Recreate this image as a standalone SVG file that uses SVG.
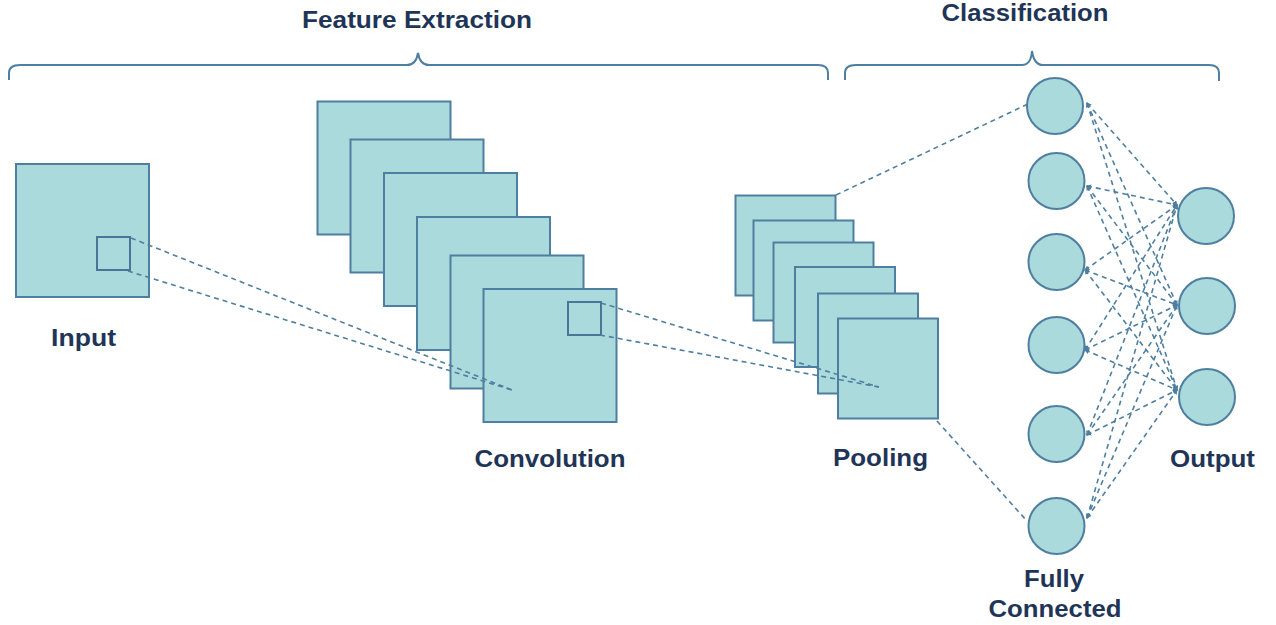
<svg xmlns="http://www.w3.org/2000/svg" width="1276" height="625" viewBox="0 0 1276 625">
<defs>
<style>
.box{fill:#aadadb;stroke:#4f7fa0;stroke-width:2}
.sm{fill:none;stroke:#4a7598;stroke-width:2}
.node{fill:#aadadb;stroke:#4f7fa0;stroke-width:2}
.dash{fill:none;stroke:#4f7fa0;stroke-width:1.6;stroke-dasharray:5 4}
.brace{fill:none;stroke:#4f7fa0;stroke-width:2}
.lbl{font-family:"Liberation Sans",Arial,sans-serif;font-weight:bold;font-size:23.5px;fill:#1f3557;text-anchor:middle}
</style>
<marker id="ah" viewBox="0 0 6 6" refX="5" refY="3" markerWidth="5" markerHeight="5" orient="auto-start-reverse" markerUnits="userSpaceOnUse">
<path d="M0,0 L6,3 L0,6 Z" fill="#4f7fa0"/>
</marker>
</defs>
<rect width="1276" height="625" fill="#ffffff"/>

<g id="braces">
<path class="brace" d="M9,80 L9,73 Q9,65 20,65 L407,65 Q416,65 418,53 Q420,65 429,65 L818,65 Q828,65 828,73 L828,80"/>
<path class="brace" d="M845,80 L845,73 Q845,65 856,65 L1022,65 Q1031,65 1032,51 Q1034,65 1043,65 L1209,65 Q1219,65 1219,73 L1219,81"/>
</g>

<g id="titles">
<text class="lbl" x="417" y="28" textLength="230" lengthAdjust="spacingAndGlyphs">Feature Extraction</text>
<text class="lbl" x="1025" y="21" textLength="167" lengthAdjust="spacingAndGlyphs">Classification</text>
</g>

<g id="input">
<rect class="box" x="16" y="164" width="133" height="133"/>
<rect class="sm" x="97" y="237" width="33" height="33"/>
<text class="lbl" x="83.5" y="346" textLength="65" lengthAdjust="spacingAndGlyphs">Input</text>
</g>

<g id="convolution">
<rect class="box" x="317.5" y="101.5" width="133" height="133"/>
<rect class="box" x="350.5" y="139.5" width="133" height="133"/>
<rect class="box" x="384" y="173" width="133" height="133"/>
<rect class="box" x="417" y="217" width="133" height="133"/>
<rect class="box" x="450.5" y="255.5" width="133" height="133"/>
<rect class="box" x="483.5" y="289" width="133" height="133"/>
<rect class="sm" x="568" y="302" width="33" height="33"/>
<text class="lbl" x="550" y="467" textLength="151" lengthAdjust="spacingAndGlyphs">Convolution</text>
</g>

<g id="pooling">
<rect class="box" x="735.5" y="195.5" width="100" height="100"/>
<rect class="box" x="753.5" y="220.5" width="100" height="100"/>
<rect class="box" x="773.5" y="242.5" width="100" height="100"/>
<rect class="box" x="795" y="267" width="100" height="100"/>
<rect class="box" x="818" y="293.5" width="100" height="100"/>
<rect class="box" x="838" y="318.5" width="100" height="100"/>
<text class="lbl" x="880.5" y="466" textLength="95" lengthAdjust="spacingAndGlyphs">Pooling</text>
</g>

<g id="connectors">
<line class="dash" x1="131" y1="238" x2="512" y2="390"/>
<line class="dash" x1="128" y1="271" x2="512" y2="390"/>
<line class="dash" x1="601" y1="303" x2="879" y2="387"/>
<line class="dash" x1="600" y1="335" x2="879" y2="387"/>
<line class="dash" x1="836" y1="195" x2="1028" y2="104"/>
<line class="dash" x1="937" y1="421" x2="1027" y2="521"/>
<g marker-start="url(#ah)" marker-end="url(#ah)">
<line class="dash" x1="1087" y1="103" x2="1177" y2="205"/>
<line class="dash" x1="1087" y1="103" x2="1177" y2="305"/>
<line class="dash" x1="1087" y1="103" x2="1177" y2="390"/>
<line class="dash" x1="1087" y1="186" x2="1177" y2="205"/>
<line class="dash" x1="1087" y1="186" x2="1177" y2="305"/>
<line class="dash" x1="1087" y1="186" x2="1177" y2="390"/>
<line class="dash" x1="1085" y1="270" x2="1177" y2="205"/>
<line class="dash" x1="1085" y1="270" x2="1177" y2="305"/>
<line class="dash" x1="1085" y1="270" x2="1177" y2="390"/>
<line class="dash" x1="1085" y1="350" x2="1177" y2="205"/>
<line class="dash" x1="1085" y1="350" x2="1177" y2="305"/>
<line class="dash" x1="1085" y1="350" x2="1177" y2="390"/>
<line class="dash" x1="1087" y1="435" x2="1177" y2="205"/>
<line class="dash" x1="1087" y1="435" x2="1177" y2="305"/>
<line class="dash" x1="1087" y1="435" x2="1177" y2="390"/>
<line class="dash" x1="1087" y1="518" x2="1177" y2="205"/>
<line class="dash" x1="1087" y1="518" x2="1177" y2="305"/>
<line class="dash" x1="1087" y1="518" x2="1177" y2="390"/>
</g>
</g>

<g id="fc1"><circle class="node" cx="1055" cy="106" r="28"/></g>
<g id="fc2"><circle class="node" cx="1056.5" cy="181" r="28"/></g>
<g id="fc3"><circle class="node" cx="1056.5" cy="262" r="28"/></g>
<g id="fc4"><circle class="node" cx="1056.5" cy="345" r="28"/></g>
<g id="fc5"><circle class="node" cx="1056.5" cy="434" r="28"/></g>
<g id="fc6"><circle class="node" cx="1056.5" cy="526" r="28"/></g>
<g id="fc-label">
<text class="lbl" x="1054" y="587" textLength="60" lengthAdjust="spacingAndGlyphs">Fully</text>
<text class="lbl" x="1055" y="617" textLength="133" lengthAdjust="spacingAndGlyphs">Connected</text>
</g>

<g id="out1"><circle class="node" cx="1206" cy="216" r="28"/></g>
<g id="out2"><circle class="node" cx="1207" cy="306" r="28"/></g>
<g id="out3"><circle class="node" cx="1207" cy="397" r="28"/></g>
<g id="out-label"><text class="lbl" x="1212.5" y="467" textLength="85" lengthAdjust="spacingAndGlyphs">Output</text></g>
</svg>
